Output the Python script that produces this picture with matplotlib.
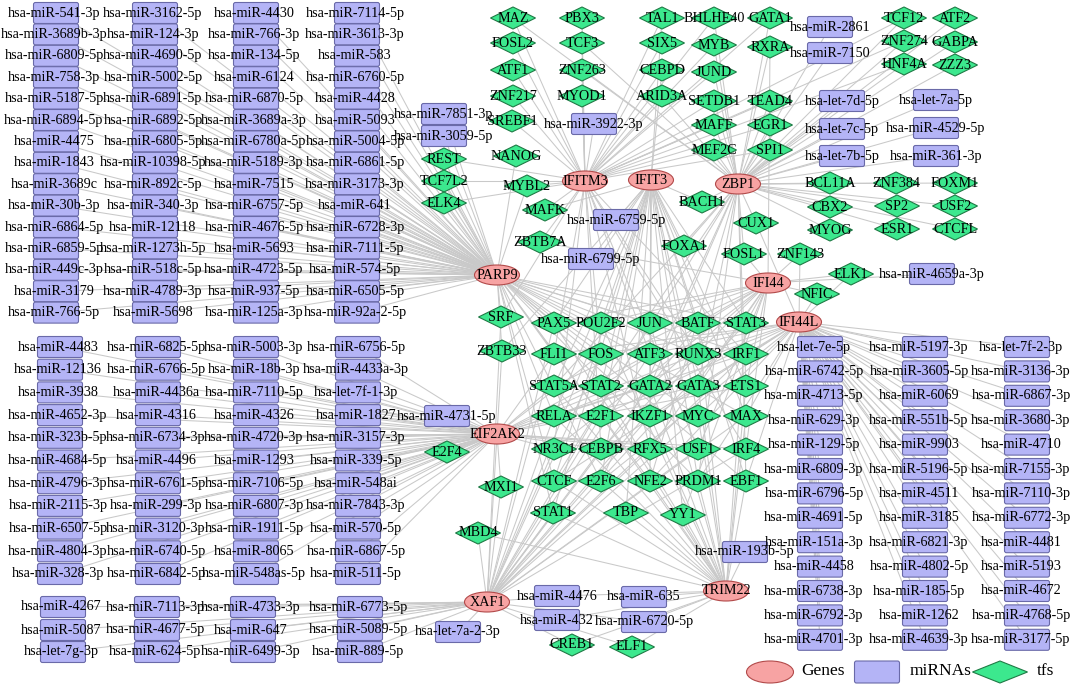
import matplotlib
matplotlib.use("Agg")
import matplotlib.pyplot as plt
from matplotlib.patches import Ellipse, FancyBboxPatch, Polygon

plt.rcParams['font.family'] = ['Liberation Serif', 'DejaVu Serif']


def mir(s):
    # short miRNA ids -> full names
    return 'hsa-' + s if s.startswith('let') else 'hsa-miR-' + s


# ---------------- data: nodes ----------------
genes = ['IFITM3', 'IFIT3', 'ZBP1', 'PARP9', 'IFI44', 'IFI44L', 'EIF2AK2', 'XAF1', 'TRIM22']

# miRNA blocks (rows of names), each block targets one gene
mir_parp9 = [
    ['541-3p', '3162-5p', '4430', '7114-5p'],
    ['3689b-3p', '124-3p', '766-3p', '3613-3p'],
    ['6809-5p', '4690-5p', '134-5p', '583'],
    ['758-3p', '5002-5p', '6124', '6760-5p'],
    ['5187-5p', '6891-5p', '6870-5p', '4428'],
    ['6894-5p', '6892-5p', '3689a-3p', '5093'],
    ['4475', '6805-5p', '6780a-5p', '5004-5p'],
    ['1843', '10398-5p', '5189-3p', '6861-5p'],
    ['3689c', '892c-5p', '7515', '3173-3p'],
    ['30b-3p', '340-3p', '6757-5p', '641'],
    ['6864-5p', '12118', '4676-5p', '6728-3p'],
    ['6859-5p', '1273h-5p', '5693', '7111-5p'],
    ['449c-3p', '518c-5p', '4723-5p', '574-5p'],
    ['3179', '4789-3p', '937-5p', '6505-5p'],
    ['766-5p', '5698', '125a-3p', '92a-2-5p'],
]
mir_eif2ak2 = [
    ['4483', '6825-5p', '5003-3p', '6756-5p'],
    ['12136', '6766-5p', '18b-3p', '4433a-3p'],
    ['3938', '4436a', '7110-5p', 'let-7f-1-3p'],
    ['4652-3p', '4316', '4326', '1827'],
    ['323b-5p', '6734-3p', '4720-3p', '3157-3p'],
    ['4684-5p', '4496', '1293', '339-5p'],
    ['4796-3p', '6761-5p', '7106-5p', '548ai'],
    ['2115-3p', '299-3p', '6807-3p', '7843-3p'],
    ['6507-5p', '3120-3p', '1911-5p', '570-5p'],
    ['4804-3p', '6740-5p', '8065', '6867-5p'],
    ['328-3p', '6842-5p', '548as-5p', '511-5p'],
]
mir_xaf1 = [
    ['4267', '7113-3p', '4733-3p', '6773-5p'],
    ['5087', '4677-5p', '647', '5089-5p'],
    ['let-7g-3p', '624-5p', '6499-3p', '889-5p'],
]
mir_ifi44l = [
    ['let-7e-5p', '5197-3p', 'let-7f-2-3p'],
    ['6742-5p', '3605-5p', '3136-3p'],
    ['4713-5p', '6069', '6867-3p'],
    ['629-3p', '551b-5p', '3680-3p'],
    ['129-5p', '9903', '4710'],
    ['6809-3p', '5196-5p', '7155-3p'],
    ['6796-5p', '4511', '7110-3p'],
    ['4691-5p', '3185', '6772-3p'],
    ['151a-3p', '6821-3p', '4481'],
    ['4458', '4802-5p', '5193'],
    ['6738-3p', '185-5p', '4672'],
    ['6792-3p', '1262', '4768-5p'],
    ['4701-3p', '4639-3p', '3177-5p'],
]
# single miRNAs and their target genes
mir_single = {
    '7851-3p': ['PARP9'], '3059-5p': ['PARP9'],
    '3922-3p': ['IFITM3'],
    '6759-5p': ['IFIT3'], '6799-5p': ['IFIT3'],
    '2861': ['ZBP1'], '7150': ['ZBP1'],
    'let-7d-5p': ['ZBP1'], 'let-7c-5p': ['ZBP1'], 'let-7b-5p': ['ZBP1'],
    'let-7a-5p': ['ZBP1'], '4529-5p': ['ZBP1'], '361-3p': ['ZBP1'],
    '4659a-3p': ['IFI44'],
    '4731-5p': ['EIF2AK2'],
    'let-7a-2-3p': ['XAF1'],
    '193b-5p': ['TRIM22'],
    '4476': ['TRIM22', 'XAF1'], '432': ['TRIM22'],
    '635': ['TRIM22'], '6720-5p': ['TRIM22', 'XAF1'],
}

# central block of transcription factors (rows)
tf_grid = [
    ['PAX5', 'POU2F2', 'JUN', 'BATF', 'STAT3'],
    ['FLI1', 'FOS', 'ATF3', 'RUNX3', 'IRF1'],
    ['STAT5A', 'STAT2', 'GATA2', 'GATA3', 'ETS1'],
    ['RELA', 'E2F1', 'IKZF1', 'MYC', 'MAX'],
    ['NR3C1', 'CEBPB', 'RFX5', 'USF1', 'IRF4'],
    ['CTCF', 'E2F6', 'NFE2', 'PRDM1', 'EBF1'],
]
tf_grid_targets = [
    ['PARP9', 'IFIT3', 'IFI44', 'XAF1', 'TRIM22'],
    ['PARP9', 'IFITM3', 'IFI44L', 'EIF2AK2', 'XAF1'],
    ['IFIT3', 'ZBP1', 'IFI44', 'EIF2AK2', 'TRIM22'],
    ['PARP9', 'IFIT3', 'IFI44L', 'XAF1', 'TRIM22'],
    ['IFITM3', 'IFI44', 'EIF2AK2', 'XAF1'],
    ['PARP9', 'IFIT3', 'ZBP1', 'IFI44L', 'TRIM22'],
]

# other transcription factors and their target genes
tf_targets = {
    'MAZ': ['IFITM3', 'ZBP1'], 'PBX3': ['IFITM3'], 'TAL1': ['IFITM3', 'IFIT3'],
    'BHLHE40': ['IFITM3', 'ZBP1'], 'GATA1': ['IFITM3', 'ZBP1'],
    'FOSL2': ['IFITM3'], 'TCF3': ['IFITM3', 'ZBP1'], 'SIX5': ['IFITM3'],
    'MYB': ['IFITM3', 'ZBP1'], 'RXRA': ['ZBP1', 'IFI44'],
    'ATF1': ['IFITM3'], 'ZNF263': ['IFITM3', 'ZBP1'], 'CEBPD': ['IFITM3', 'IFIT3'],
    'JUND': ['IFITM3', 'ZBP1'], 'ZNF217': ['IFITM3'], 'MYOD1': ['IFITM3'],
    'ARID3A': ['IFITM3', 'ZBP1'], 'SETDB1': ['IFITM3', 'ZBP1'], 'TEAD4': ['IFITM3', 'ZBP1'],
    'SREBF1': ['IFITM3'], 'MAFF': ['IFITM3', 'ZBP1'], 'EGR1': ['IFITM3', 'ZBP1'],
    'MEF2C': ['IFITM3', 'ZBP1'], 'SPI1': ['IFITM3', 'ZBP1'],
    'NANOG': ['PARP9'], 'REST': ['PARP9', 'IFITM3'], 'TCF7L2': ['PARP9', 'IFITM3'],
    'ELK4': ['PARP9', 'IFITM3'], 'MYBL2': ['IFITM3', 'PARP9'], 'MAFK': ['IFITM3', 'IFIT3'],
    'ZBTB7A': ['IFITM3', 'IFI44'], 'BACH1': ['ZBP1', 'IFIT3'], 'CUX1': ['ZBP1', 'IFI44L'],
    'FOXA1': ['IFIT3', 'ZBP1'], 'FOSL1': ['ZBP1', 'IFI44'], 'ZNF143': ['IFI44', 'IFI44L'],
    'ELK1': ['IFI44', 'IFI44L'], 'NFIC': ['IFI44', 'IFI44L'],
    'BCL11A': ['ZBP1'], 'ZNF384': ['ZBP1'], 'FOXM1': ['ZBP1'],
    'CBX2': ['ZBP1'], 'SP2': ['ZBP1'], 'USF2': ['ZBP1'],
    'MYOG': ['ZBP1'], 'ESR1': ['ZBP1'], 'CTCFL': ['ZBP1'],
    'TCF12': ['ZBP1', 'IFITM3'], 'ATF2': ['ZBP1'], 'ZNF274': ['ZBP1', 'IFITM3'],
    'GABPA': ['ZBP1'], 'HNF4A': ['ZBP1', 'IFITM3'], 'ZZZ3': ['ZBP1'],
    'SRF': ['PARP9', 'IFITM3', 'XAF1'], 'ZBTB33': ['PARP9', 'XAF1', 'IFIT3'],
    'MXI1': ['EIF2AK2', 'XAF1'], 'E2F4': ['EIF2AK2'], 'MBD4': ['XAF1', 'TRIM22'],
    'STAT1': ['XAF1', 'TRIM22', 'IFIT3', 'PARP9'], 'TBP': ['TRIM22', 'IFIT3'],
    'YY1': ['TRIM22', 'IFIT3', 'IFI44'], 'CREB1': ['XAF1', 'TRIM22'], 'ELF1': ['TRIM22', 'XAF1'],
}

legend_items = ['Genes', 'miRNAs', 'tfs']

# ---------------- layout (pixel coordinates of the network view) ----------------
pos = {}
text_dx = {}


def place_grid(rows, xs, ys, namer=lambda s: s, dx=0):
    for r, row in enumerate(rows):
        for c, s in enumerate(row):
            pos[namer(s)] = (xs[c], ys[r])
            text_dx[namer(s)] = dx


place_grid(mir_parp9, [56, 155, 256, 357], [13 + i * 21.4 for i in range(15)], mir, -2)
place_grid(mir_eif2ak2, [60, 158, 256, 358], [347 + i * 22.7 for i in range(11)], mir, -2)
place_grid(mir_xaf1, [63, 157, 253, 360], [607, 630, 652], mir, -2)
place_grid(mir_ifi44l, [820, 925, 1027], [347 + i * 24.4 for i in range(13)], mir, -6)
place_grid(tf_grid, [554, 601, 650, 698, 746], [323, 354, 386, 416, 449, 481])

gene_xy = {'IFITM3': (585, 181), 'IFIT3': (651, 180), 'ZBP1': (738, 184),
           'PARP9': (497, 275), 'IFI44': (768, 283), 'IFI44L': (799, 322),
           'EIF2AK2': (497, 434), 'XAF1': (487, 602), 'TRIM22': (726, 591)}
mir_xy = {'7851-3p': (444, 114), '3059-5p': (444, 136), '3922-3p': (594, 124),
          '6759-5p': (616, 220), '6799-5p': (591, 259), '2861': (830, 27),
          '7150': (830, 53), 'let-7d-5p': (842, 101), 'let-7c-5p': (842, 129),
          'let-7b-5p': (842, 156), 'let-7a-5p': (936, 100), '4529-5p': (936, 128),
          '361-3p': (936, 156), '4659a-3p': (932, 274), '4731-5p': (447, 416),
          'let-7a-2-3p': (458, 632), '193b-5p': (745, 552), '4476': (557, 596),
          '432': (557, 620), '635': (644, 597), '6720-5p': (644, 622)}
tf_xy = {'MAZ': (513, 18), 'PBX3': (582, 18), 'TAL1': (662, 18), 'BHLHE40': (714, 18),
         'GATA1': (770, 18), 'FOSL2': (513, 43), 'TCF3': (582, 43), 'SIX5': (662, 43),
         'MYB': (714, 45), 'RXRA': (770, 47), 'ATF1': (513, 70), 'ZNF263': (582, 70),
         'CEBPD': (662, 70), 'JUND': (714, 72), 'ZNF217': (513, 96), 'MYOD1': (582, 96),
         'ARID3A': (662, 96), 'SETDB1': (714, 101), 'TEAD4': (770, 101), 'SREBF1': (512, 121),
         'MAFF': (714, 125), 'EGR1': (770, 125), 'MEF2C': (714, 150), 'SPI1': (770, 150),
         'NANOG': (516, 156), 'REST': (444, 159), 'TCF7L2': (444, 181), 'ELK4': (444, 203),
         'MYBL2': (527, 186), 'MAFK': (545, 210), 'ZBTB7A': (540, 242), 'BACH1': (702, 202),
         'CUX1': (756, 223), 'FOXA1': (684, 246), 'FOSL1': (744, 254), 'ZNF143': (800, 254),
         'ELK1': (851, 274), 'NFIC': (817, 294), 'BCL11A': (830, 183), 'ZNF384': (896, 183),
         'FOXM1': (955, 183), 'CBX2': (830, 207), 'SP2': (897, 206), 'USF2': (955, 206),
         'MYOG': (830, 230), 'ESR1': (897, 229), 'CTCFL': (955, 229), 'TCF12': (904, 18),
         'ATF2': (955, 18), 'ZNF274': (904, 41), 'GABPA': (955, 42), 'HNF4A': (904, 64),
         'ZZZ3': (955, 65), 'SRF': (501, 317), 'ZBTB33': (502, 351), 'MXI1': (501, 487),
         'E2F4': (447, 452), 'MBD4': (478, 533), 'STAT1': (553, 513), 'TBP': (626, 513),
         'YY1': (683, 515), 'CREB1': (572, 645), 'ELF1': (632, 647)}
pos.update(gene_xy)
pos.update({mir(k): v for k, v in mir_xy.items()})
pos.update(tf_xy)

# ---------------- edges ----------------
edges = []
for block, gene in [(mir_parp9, 'PARP9'), (mir_eif2ak2, 'EIF2AK2'),
                    (mir_xaf1, 'XAF1'), (mir_ifi44l, 'IFI44L')]:
    for row in block:
        for s in row:
            edges.append((mir(s), gene))
for s, tg in mir_single.items():
    for g in tg:
        edges.append((mir(s), g))
for row, tg in zip(tf_grid, tf_grid_targets):
    for k, tf in enumerate(row):
        for g in tg:
            edges.append((tf, g))
for tf, tg in tf_targets.items():
    for g in tg:
        edges.append((tf, g))

# ---------------- drawing ----------------
W, H = 1072, 685
fig = plt.figure(figsize=(W / 100, H / 100), dpi=100)
ax = fig.add_axes([0, 0, 1, 1])
ax.set_xlim(0, W)
ax.set_ylim(H, 0)
ax.axis('off')

GENE_FC, GENE_EC = '#f7a3a3', '#b24a4a'
MIR_FC, MIR_EC = '#b4b4f6', '#6a6aa8'
TF_FC, TF_EC = '#3ce88e', '#1f7a45'
FS = 10.2

for a, b in edges:
    (x1, y1), (x2, y2) = pos[a], pos[b]
    ax.plot([x1, x2], [y1, y2], color='#c9c9c9', lw=0.75, zorder=1, solid_capstyle='round')


def draw_gene(x, y, w=45, h=20):
    ax.add_patch(Ellipse((x, y), w, h, fc=GENE_FC, ec=GENE_EC, lw=0.8, zorder=3))


def draw_mir(x, y, w=45, h=21):
    ax.add_patch(FancyBboxPatch((x - w / 2 + 2, y - h / 2 + 2), w - 4, h - 4,
                                boxstyle='round,pad=2', fc=MIR_FC, ec=MIR_EC,
                                lw=0.8, zorder=2))


def draw_tf(x, y, w=45, h=22):
    ax.add_patch(Polygon([(x - w / 2, y), (x, y - h / 2), (x + w / 2, y), (x, y + h / 2)],
                         closed=True, fc=TF_FC, ec=TF_EC, lw=0.8, zorder=3))


def label(x, y, s, fs=FS):
    ax.text(x, y, s, ha='center', va='center', fontsize=fs, color='black', zorder=5)


all_mirs = [mir(s) for blk in [mir_parp9, mir_eif2ak2, mir_xaf1, mir_ifi44l]
            for row in blk for s in row] + [mir(s) for s in mir_single]
all_tfs = [t for row in tf_grid for t in row] + list(tf_targets)

for m in all_mirs:
    draw_mir(*pos[m])
for t in all_tfs:
    draw_tf(*pos[t])
for g in genes:
    draw_gene(*pos[g])
for n in all_mirs + all_tfs + genes:
    label(pos[n][0] + text_dx.get(n, 0), pos[n][1], n)

# legend
ly = 672
draw_gene(770, ly, 47, 22)
label(823, ly - 1, legend_items[0], 12.5)
draw_mir(877, ly, 45, 22)
label(941, ly - 1, legend_items[1], 12.5)
draw_tf(1000, ly, 55, 22)
label(1045, ly - 1, legend_items[2], 12.5)

fig.savefig('out.png', dpi=100)
